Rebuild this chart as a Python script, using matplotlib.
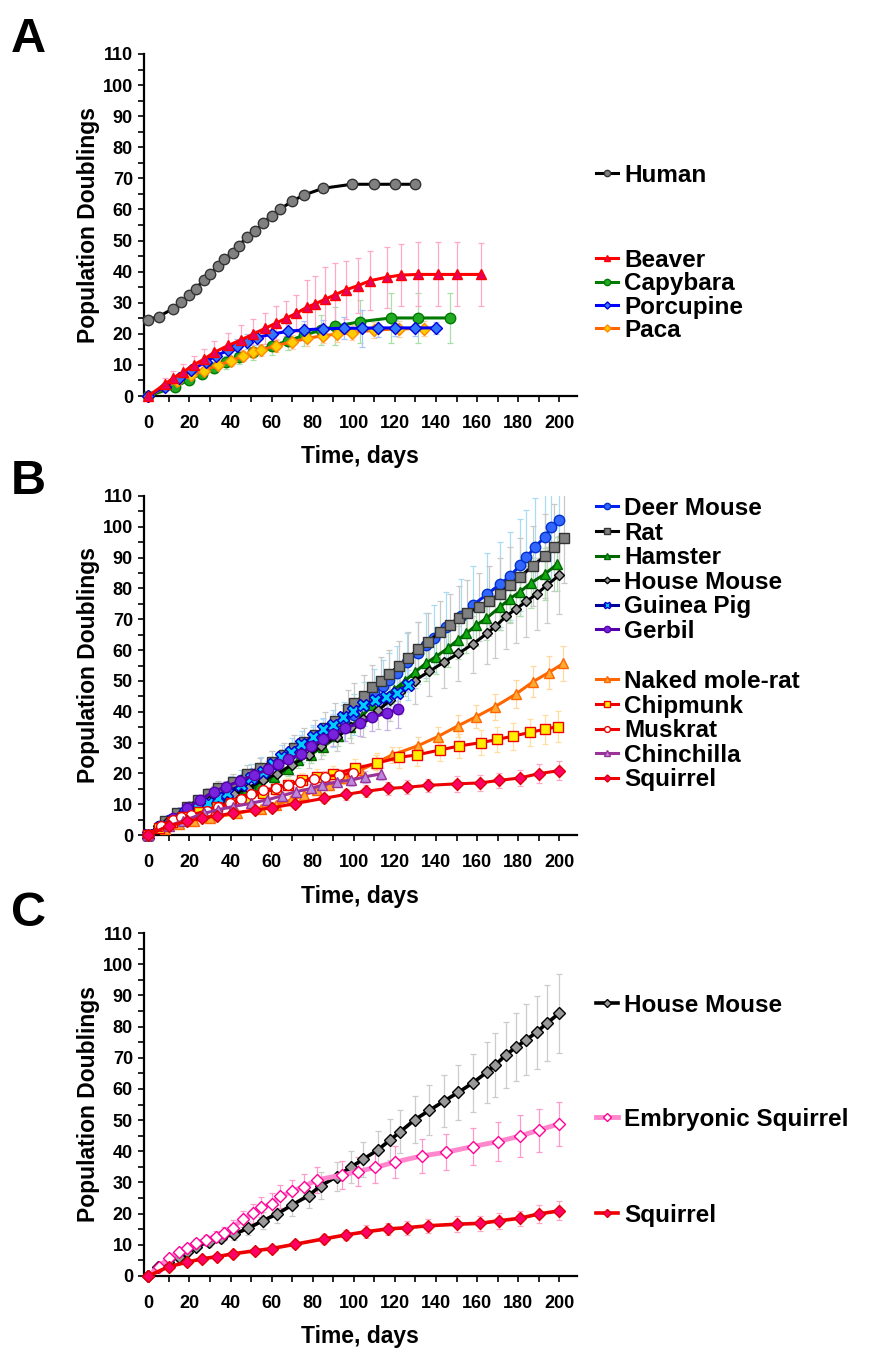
import matplotlib
matplotlib.use("Agg")
import matplotlib.pyplot as plt
from matplotlib.ticker import MultipleLocator

plt.rcParams['font.family'] = ['Liberation Sans', 'DejaVu Sans']
plt.rcParams['font.weight'] = 'bold'

# ---------------- Panel A data ----------------
human_x = [0, 5, 12, 16, 20, 23, 27, 30, 34, 37, 41, 44, 48, 52, 56, 60, 64, 70, 76, 85, 99, 110, 120, 130]
human_y = [24.6, 25.5, 28.1, 30.3, 32.6, 34.5, 37.3, 39.2, 41.9, 44.0, 46.1, 48.4, 51.0, 53.1, 55.7, 58.0, 60.0, 62.7, 64.7, 66.8, 68.1, 68.1, 68.1, 68.1]

beaver_x = [0, 8, 12, 17, 22, 27, 32, 39, 45, 51, 57, 62, 67, 72, 77, 81, 86, 91, 96, 102, 108, 116, 123, 131, 141, 150, 162]
beaver_y = [0, 3.8, 5.7, 7.7, 10.0, 11.8, 14.0, 16.3, 18.0, 19.9, 21.8, 23.4, 25.0, 26.6, 28.5, 29.6, 31.1, 32.6, 34.1, 35.5, 37.1, 38.2, 38.9, 39.1, 39.1, 39.1, 39.1]
beaver_e = [0, 2.1, 2.3, 2.5, 2.8, 3.2, 3.7, 3.9, 4.9, 5.0, 5.0, 5.4, 5.6, 5.9, 8.8, 9.1, 10.3, 10.1, 9.4, 8.9, 9.4, 9.8, 10.0, 10.3, 10.3, 10.3, 10.0]

capy_x = [0, 13, 20, 26, 32, 38, 44, 51, 60, 68, 76, 84, 91, 103, 118, 131, 147]
capy_y = [0, 2.9, 5.3, 7.2, 9.1, 10.8, 12.6, 14.0, 16.1, 17.7, 19.6, 21.2, 22.4, 23.9, 25.1, 25.1, 25.1]
capy_e = [0, 1.0, 1.2, 1.5, 1.7, 2.0, 2.2, 2.5, 2.8, 3.0, 3.5, 4.8, 6.1, 7.0, 8.0, 8.0, 8.0]

porc_x = [0, 8, 15, 21, 28, 33, 39, 43, 48, 53, 60, 68, 76, 85, 95, 104, 112, 120, 130, 140]
porc_y = [0, 3.0, 5.9, 8.3, 11.0, 13.0, 14.7, 16.1, 17.4, 18.8, 19.9, 20.8, 21.3, 21.6, 21.8, 21.8, 21.9, 21.9, 21.9, 21.9]
porc_e = [0, 1.0, 1.2, 1.5, 1.7, 2.0, 2.0, 2.2, 2.4, 2.5, 2.5, 2.5, 2.8, 3.0, 3.5, 6.0, 3.0, 2.5, 2.5, 2.0]

paca_x = [0, 14, 21, 27, 34, 40, 46, 51, 55, 62, 70, 77, 85, 92, 99, 110, 122, 134]
paca_y = [0, 4.8, 6.7, 8.1, 10.0, 11.2, 12.9, 14.0, 14.8, 16.2, 17.4, 18.5, 19.4, 19.9, 20.4, 21.2, 21.6, 21.7]
paca_e = [0, 1.0, 1.0, 1.2, 1.3, 1.5, 1.6, 1.8, 2.0, 2.0, 2.2, 2.4, 2.5, 2.5, 2.5, 2.5, 2.5, 2.5]

# ---------------- Panel B data ----------------
deer_x = [0, 5, 10, 15, 20, 25, 30, 35, 40, 45, 50, 55, 60, 65, 70, 75, 80, 85, 90, 95, 100, 105, 110, 114, 117, 121, 126, 131, 135, 139, 145, 152, 158, 165, 171, 176, 181, 184, 188, 193, 196, 200]
deer_y = [0, 2.9, 5.0, 7.0, 9.0, 10.8, 12.8, 14.5, 16.3, 18.0, 19.8, 21.5, 23.2, 25.0, 26.8, 28.7, 30.6, 32.6, 34.6, 36.8, 39.0, 42.5, 46.0, 48.5, 50.3, 52.5, 56.0, 59.0, 61.5, 63.8, 67.5, 71.0, 74.6, 78.2, 81.3, 84.0, 87.6, 90.1, 93.3, 96.8, 99.8, 102.2]
deer_e = [0, 0.5, 0.9, 1.2, 1.5, 1.8, 2.2, 2.5, 2.8, 3.1, 3.4, 3.7, 3.9, 4.3, 4.6, 4.9, 5.2, 5.5, 5.9, 6.3, 6.6, 7.2, 7.8, 8.2, 8.6, 8.9, 9.5, 10.0, 10.5, 10.8, 11.5, 12.0, 12.7, 13.3, 13.8, 14.3, 14.9, 15.3, 15.9, 16.5, 17.0, 17.4]

rat_x = [0, 8, 14, 19, 24, 29, 34, 41, 48, 54.5, 60, 66, 71, 76, 81, 86, 91, 97, 100, 105, 109, 113, 117, 122, 126.5, 131, 136, 142, 147, 151, 155, 161, 166, 171, 176, 181, 187, 193, 197.5, 202.5]
rat_y = [0, 4.7, 7.0, 9.2, 11.4, 13.3, 15.1, 17.3, 19.8, 21.8, 23.8, 26.0, 28.1, 30.3, 32.4, 34.6, 37.1, 40.8, 42.9, 45.1, 47.9, 50.1, 52.2, 54.9, 57.3, 60.2, 62.5, 66.0, 68.1, 70.3, 72.1, 73.9, 76.0, 78.2, 81.1, 83.8, 87.3, 90.5, 93.3, 96.3]
rat_e = [0, 0.7, 1.0, 1.4, 1.7, 2.0, 2.3, 2.6, 3.0, 3.3, 3.6, 3.9, 4.2, 4.5, 4.9, 5.2, 5.6, 6.1, 6.4, 6.8, 7.2, 7.5, 7.8, 8.2, 8.6, 9.0, 9.4, 9.9, 10.2, 10.5, 10.8, 11.1, 11.4, 11.7, 12.2, 12.6, 13.1, 13.6, 14.0, 14.4]

ham_x = [0, 7, 14, 22, 30, 38.5, 47, 54, 61, 68, 73, 79, 85, 92.5, 98, 104, 109, 114.6, 119.5, 125, 130, 135, 140, 145.7, 150.6, 154.7, 159.6, 164.5, 171, 176, 181, 186, 193, 199]
ham_y = [0, 3.0, 5.3, 7.5, 9.5, 11.5, 14.0, 16.2, 18.7, 21.5, 24.3, 26.0, 28.7, 32.0, 35.0, 38.5, 42.2, 44.9, 47.1, 50.1, 53.0, 55.7, 57.9, 60.6, 63.3, 65.4, 68.1, 70.3, 73.9, 76.7, 79.0, 81.7, 84.7, 87.9]
ham_e = [0, 0.3, 0.5, 0.8, 1.0, 1.2, 1.4, 1.6, 1.9, 2.2, 2.4, 2.6, 2.9, 3.2, 3.5, 3.9, 4.2, 4.5, 4.7, 5.0, 5.3, 5.6, 5.8, 6.1, 6.3, 6.5, 6.8, 7.0, 7.4, 7.7, 7.9, 8.2, 8.5, 8.8]

hmouse_x = [0, 4.9, 9.8, 14.7, 18.8, 23, 29.5, 35.5, 41.7, 48.6, 55.6, 62.7, 70, 78, 83.8, 91.7, 98.5, 104.7, 111.6, 117.8, 122.7, 129.6, 136.7, 143.9, 150.9, 157.8, 164.8, 168.9, 174, 179, 184, 189, 194, 200]
hmouse_y = [0, 2.8, 4.6, 6.2, 7.8, 9.4, 11.0, 12.3, 13.4, 15.3, 17.7, 19.9, 22.8, 25.8, 28.9, 31.9, 34.9, 37.5, 40.4, 43.7, 46.3, 50.1, 53.1, 56.1, 58.9, 61.9, 65.4, 67.7, 70.9, 73.4, 75.8, 78.2, 81.1, 84.3]
hmouse_e = [0, 0.4, 0.7, 0.9, 1.2, 1.4, 1.6, 1.8, 2.0, 2.3, 2.7, 3.0, 3.4, 3.9, 4.3, 4.8, 5.2, 5.6, 6.1, 6.6, 6.9, 7.5, 8.0, 8.4, 8.8, 9.3, 9.8, 10.2, 10.6, 11.0, 11.4, 11.7, 12.2, 12.7]

gpig_x = [0, 6, 12, 18, 24, 29, 34, 38.5, 45, 50, 55.6, 60.6, 64.6, 69.2, 74.5, 80.2, 85.1, 90, 94.9, 99.8, 104.7, 110.5, 115.7, 121.1, 126.5]
gpig_y = [0, 2.5, 5.0, 7.2, 8.9, 10.4, 11.9, 13.7, 16.2, 18.4, 20.6, 23.0, 25.2, 27.0, 29.4, 31.9, 34.3, 35.7, 38.4, 40.3, 42.2, 43.8, 44.9, 46.2, 48.7]
gpig_e = [0, 0.3, 0.5, 0.7, 0.9, 1.0, 1.2, 1.4, 1.6, 1.8, 2.0, 2.3, 2.5, 2.7, 2.9, 3.2, 3.4, 3.6, 3.8, 4.0, 4.2, 4.4, 4.5, 4.6, 4.9]

gerbil_x = [0, 6, 12, 19, 25, 32, 37.6, 44.5, 51.6, 58.4, 63, 68, 74.5, 79.4, 85, 90, 95.7, 103, 108.8, 116, 121.6]
gerbil_y = [0, 3.0, 5.4, 8.7, 11.4, 14.1, 15.7, 17.5, 19.5, 21.3, 23.0, 24.6, 26.3, 28.9, 31.0, 32.7, 34.6, 36.5, 38.2, 39.5, 40.9]
gerbil_e = [0, 0.4, 0.6, 1.0, 1.4, 1.7, 1.9, 2.1, 2.3, 2.6, 2.8, 3.0, 3.2, 3.5, 3.7, 3.9, 4.2, 4.4, 4.6, 5.5, 6.3]

nmr_x = [0, 8, 15, 22, 30, 43, 55, 62, 69.6, 76, 82, 88, 95.7, 103, 111, 118.7, 131, 140.8, 150.6, 159.6, 168.6, 179, 187.4, 194.8, 202]
nmr_y = [0, 2.0, 3.5, 4.5, 5.5, 7.0, 8.5, 9.8, 11.4, 13.0, 14.5, 16.2, 18.4, 21.0, 23.5, 26.0, 28.9, 31.9, 35.4, 38.4, 41.6, 45.8, 49.8, 52.7, 55.7]
nmr_e = [0, 0.2, 0.4, 0.5, 0.6, 0.7, 0.9, 1.0, 1.1, 1.3, 1.5, 1.6, 1.8, 2.1, 2.4, 2.6, 2.9, 3.2, 3.5, 3.8, 4.2, 4.6, 5.0, 5.3, 5.6]

chip_x = [0, 5, 11.5, 17, 24.5, 33.5, 40, 47.5, 55.6, 62, 68, 75, 82, 90, 100.7, 111.3, 121.9, 130.9, 141.9, 151.4, 162, 169.9, 177.6, 185.8, 192.8, 199.2]
chip_y = [0, 2.2, 4.3, 6.0, 7.6, 9.0, 10.3, 11.6, 13.7, 15.0, 16.3, 17.8, 18.8, 19.8, 21.6, 23.3, 25.2, 26.0, 27.6, 28.9, 30.0, 31.0, 32.1, 33.3, 34.3, 35.2]
chip_e = [0, 0.3, 0.6, 0.8, 1.0, 1.2, 1.4, 1.6, 1.9, 2.0, 2.2, 2.4, 2.5, 2.7, 2.9, 3.2, 3.4, 3.5, 3.7, 3.9, 4.1, 4.2, 4.4, 4.5, 4.7, 4.9]

musk_x = [0, 6, 12, 16, 20.8, 28.6, 34, 39.8, 45, 50, 55.6, 62, 68, 74, 80.7, 86, 92.8, 99.8]
musk_y = [0, 3.0, 4.9, 5.8, 6.5, 7.9, 9.0, 10.3, 11.8, 13.3, 14.6, 15.2, 16.2, 17.3, 18.1, 18.9, 19.5, 20.2]
musk_e = [0, 0.3, 0.5, 0.6, 0.7, 0.8, 0.9, 1.0, 1.1, 1.3, 1.4, 1.5, 1.6, 1.7, 1.8, 1.9, 2.0, 2.0]

chin_x = [0, 10, 17, 27, 34, 41, 50, 57.8, 65, 72, 79.4, 84.6, 92, 98.7, 105.6, 113]
chin_y = [0, 3.0, 4.6, 7.0, 8.2, 9.2, 10.3, 11.4, 12.7, 14.1, 15.1, 16.2, 17.3, 17.8, 18.9, 19.8]
chin_e = [0, 0.3, 0.5, 0.7, 0.8, 0.9, 1.0, 1.1, 1.3, 1.4, 1.5, 1.6, 1.7, 1.8, 1.9, 2.0]

sq_x = [0, 10, 18.7, 26, 33.4, 41, 52, 60, 71.5, 85.4, 96.4, 106, 116.5, 126, 136, 150, 161.5, 170.5, 180.7, 190, 200]
sq_y = [0, 3.0, 4.4, 5.5, 6.2, 7.1, 8.1, 8.8, 10.2, 11.9, 13.2, 14.2, 15.1, 15.5, 16.1, 16.6, 16.9, 17.7, 18.5, 19.9, 20.9]
sq_e = [0, 0.5, 0.8, 1.0, 1.0, 1.0, 1.0, 1.2, 1.3, 1.5, 1.7, 2.0, 2.0, 2.2, 2.2, 2.5, 2.5, 2.5, 2.5, 3.0, 3.0]

# ---------------- Panel C data ----------------
emb_x = [0, 5, 10, 14.7, 18.8, 23, 28, 32.7, 37, 41, 46, 51, 55, 60, 64, 70, 75.6, 82, 94.4, 101.8, 110.5, 119.8, 133, 145, 157.8, 170, 181, 190, 200]
emb_y = [0, 3.0, 5.7, 7.8, 9.1, 10.5, 11.6, 12.6, 13.7, 15.5, 18.2, 20.1, 22.0, 23.1, 25.5, 27.1, 28.7, 30.8, 32.4, 33.5, 34.8, 36.5, 38.5, 39.7, 41.5, 43.1, 44.9, 46.8, 48.8]
emb_e = [0, 0.5, 0.8, 1.0, 1.2, 1.4, 1.6, 1.8, 2.0, 2.3, 2.6, 3.0, 3.2, 3.4, 3.6, 3.8, 4.0, 4.3, 4.5, 4.7, 4.9, 5.1, 5.5, 5.8, 6.0, 6.3, 6.6, 6.9, 7.0]

W, H = 875, 1360
LEG_FS = 17.5
fig = plt.figure(figsize=(W / 100, H / 100), dpi=100)


def make_ax(top, bottom):
    ax = fig.add_axes([144 / W, 1 - bottom / H, 433 / W, (bottom - top) / H])
    ax.set_xlim(-2.1, 208.6)
    ax.set_ylim(0, 110)
    for s in ['top', 'right']:
        ax.spines[s].set_visible(False)
    for s in ['left', 'bottom']:
        ax.spines[s].set_linewidth(1.6)
    ax.xaxis.set_major_locator(MultipleLocator(20))
    ax.xaxis.set_minor_locator(MultipleLocator(10))
    ax.yaxis.set_major_locator(MultipleLocator(10))
    ax.yaxis.set_minor_locator(MultipleLocator(5))
    ax.tick_params(axis='both', which='both', direction='out', length=4, width=1.2)
    ax.tick_params(axis='y', which='major', labelsize=13, pad=4)
    ax.tick_params(axis='x', which='major', labelsize=13, pad=10)
    ax.tick_params(axis='x', which='minor', pad=10)
    fig.text(89 / W, 1 - (top + bottom) / 2 / H, 'Population Doublings', rotation=90,
             ha='center', va='center', fontsize=16.5, fontweight='bold')
    fig.text(360 / W, 1 - (bottom + 61) / H, 'Time, days', ha='center', va='center',
             fontsize=16.5, fontweight='bold')
    return ax


def series(ax, x, y, e, color, marker, mfc, mec, ecolor, ms=7, lw=2.2, z=3):
    if e is not None:
        ax.errorbar(x, y, yerr=e, fmt='none', ecolor=ecolor, elinewidth=0.9,
                    capsize=2.5, capthick=0.9, zorder=z - 0.5, clip_on=True)
    line, = ax.plot(x, y, color=color, lw=lw, marker=marker, ms=ms, mfc=mfc, mec=mec,
                    mew=1.0, zorder=z, clip_on=False)
    return line


def legend(handles, labels, top_px, spacing=0.0):
    lg = fig.legend(handles, labels, loc='upper left',
                    bbox_to_anchor=(596 / W, 1 - top_px / H), frameon=False,
                    borderpad=0, borderaxespad=0, handlelength=0.9,
                    handletextpad=0.25, labelspacing=spacing, markerscale=0.6,
                    prop={'size': LEG_FS, 'weight': 'bold'})
    return lg


# ---------------- Panel A ----------------
axA = make_ax(54, 396)
h_human = series(axA, human_x, human_y, None, '#000000', 'o', '#808080', '#333333', None, ms=7.5)
h_capy = series(axA, capy_x, capy_y, capy_e, '#007a00', 'o', '#22aa22', '#007a00', '#a8e0a8', ms=7.5)
h_paca = series(axA, paca_x, paca_y, paca_e, '#ff6600', 'D', '#ffcc00', '#ff8800', '#ffd0a0', ms=6)
h_porc = series(axA, porc_x, porc_y, porc_e, '#0000ff', 'D', '#3377ff', '#0000dd', '#a8c4ff', ms=6)
h_beaver = series(axA, beaver_x, beaver_y, beaver_e, '#ff0000', '^', '#e6005c', '#ff0000', '#ffa8c8', ms=7.5)
legend([h_human], ['Human'], 164)
legend([h_beaver, h_capy, h_porc, h_paca], ['Beaver', 'Capybara', 'Porcupine', 'Paca'], 249, 0.012)

# ---------------- Panel B ----------------
axB = make_ax(496, 835)
h_deer = series(axB, deer_x, deer_y, deer_e, '#0022ee', 'o', '#3366ff', '#0033cc', '#a8dcf2', ms=7.5)
h_rat = series(axB, rat_x, rat_y, rat_e, '#000000', 's', '#808080', '#333333', '#c8c8c8', ms=7.5)
h_ham = series(axB, ham_x, ham_y, ham_e, '#006600', '^', '#11aa11', '#006600', '#b0e0b0', ms=7.5)
h_hm = series(axB, hmouse_x, hmouse_y, hmouse_e, '#000000', 'D', '#999999', '#000000', '#cccccc', ms=5.5)
h_gp = series(axB, gpig_x, gpig_y, gpig_e, '#000099', 'X', '#00ccff', '#0000cc', '#b0dcff', ms=8)
h_ger = series(axB, gerbil_x, gerbil_y, gerbil_e, '#5500aa', 'o', '#7722dd', '#5500aa', '#c8b0e6', ms=7.5)
h_nmr = series(axB, nmr_x, nmr_y, nmr_e, '#ff6600', '^', '#ffaa33', '#ff6600', '#ffd8a0', ms=7.5)
h_chip = series(axB, chip_x, chip_y, chip_e, '#ee0000', 's', '#ffee00', '#ee0000', '#ffe0a0', ms=7.5)
h_musk = series(axB, musk_x, musk_y, musk_e, '#ee0000', 'o', '#ffffff', '#ee0000', '#ffb0b0', ms=7)
h_chin = series(axB, chin_x, chin_y, chin_e, '#993399', '^', '#bb88dd', '#993399', '#dcc0ec', ms=7.5)
h_sq = series(axB, sq_x, sq_y, sq_e, '#ee0000', 'D', '#ff0066', '#dd0000', '#ffa8c4', ms=6)
legend([h_deer, h_rat, h_ham, h_hm, h_gp, h_ger],
       ['Deer Mouse', 'Rat', 'Hamster', 'House Mouse', 'Guinea Pig', 'Gerbil'], 497, 0.065)
legend([h_nmr, h_chip, h_musk, h_chin, h_sq],
       ['Naked mole-rat', 'Chipmunk', 'Muskrat', 'Chinchilla', 'Squirrel'], 670, 0.065)

# ---------------- Panel C ----------------
axC = make_ax(933, 1276)
h_hm2 = series(axC, hmouse_x, hmouse_y, hmouse_e, '#000000', 'D', '#999999', '#000000', '#cccccc', ms=6.5, lw=2.6)
h_emb = series(axC, emb_x, emb_y, emb_e, '#ff88cc', 'D', '#ffffff', '#ff0099', '#ff99cc', ms=6.5, lw=3.5)
h_sq2 = series(axC, sq_x, sq_y, sq_e, '#ee0000', 'D', '#ff0066', '#dd0000', '#ffa8c4', ms=6.5, lw=2.6)
legend([h_hm2], ['House Mouse'], 994)
legend([h_emb], ['Embryonic Squirrel'], 1108)
legend([h_sq2], ['Squirrel'], 1204)

# panel letters
for letter, base in [('A', 52), ('B', 494), ('C', 926)]:
    fig.text(11 / W, 1 - base / H, letter, fontsize=35, fontweight='bold', ha='left', va='baseline')

fig.savefig('out.png', dpi=100)
